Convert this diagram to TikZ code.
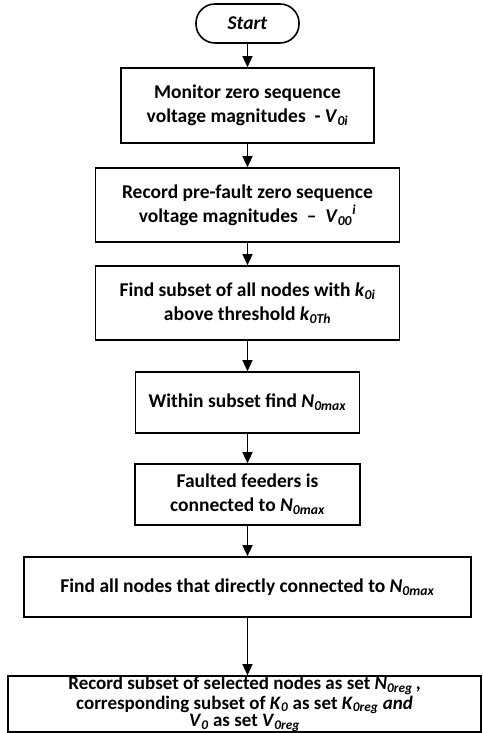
\documentclass[tikz,border=0pt]{standalone}
\usepackage{fontspec}
\setmainfont{Carlito}
\usetikzlibrary{arrows.meta}
\newcommand{\itsub}[2]{\textit{#1}\textsubscript{\textit{#2}}}

\begin{document}
\begin{tikzpicture}[x=1pt, y=1pt,
    box/.style={draw=black, line width=1.6pt, align=center, inner sep=0pt,
      font=\bfseries\fontsize{19.5}{24}\selectfont},
    term/.style={box, rounded corners=19pt},
    flow/.style={line width=1.4pt, -{Triangle[length=11pt, width=10pt]}}]
    % 1. Khung hình 482x733
    \useasboundingbox (0,0) rectangle (482,733);

    % 2. Các khối của lưu đồ
    \node[term, minimum width=103pt, minimum height=39pt] (start) at (247.5,709.5) {\textit{Start}};

    \node[box, minimum width=253pt, minimum height=75pt] (monitor) at (247.5,627.5)
      {Monitor zero sequence\\voltage magnitudes~~- \itsub{V}{0i}};

    \node[box, minimum width=304pt, minimum height=74pt] (prefault) at (247.5,528)
      {Record pre-fault zero sequence\\voltage magnitudes~~–~~\itsub{V}{00}\textsuperscript{\textit{i}}};

    \node[box, minimum width=304pt, minimum height=74pt] (subset) at (247.5,430)
      {Find subset of all nodes with \itsub{k}{0i}\\above threshold \itsub{k}{0Th}};

    \node[box, minimum width=224pt, minimum height=61pt] (nmax) at (247.5,330.5)
      {Within subset find \itsub{N}{0max}};

    \node[box, minimum width=225pt, minimum height=61pt] (faulted) at (247.5,238.5)
      {Faulted feeders is\\connected to \itsub{N}{0max}};

    \node[box, minimum width=447pt, minimum height=60pt] (neighbours) at (247.5,146)
      {Find all nodes that directly connected to \itsub{N}{0max}};

    \node[box, minimum width=473pt, minimum height=56pt,
      font=\bfseries\fontsize{19}{17.5}\selectfont] (record) at (244.5,29)
      {Record subset of selected nodes as set \itsub{N}{0reg}\,,\\
       corresponding subset of \itsub{K}{0} as set \itsub{K}{0reg} \textit{and}\\
       \itsub{V}{0} as set \itsub{V}{0reg}};

    % 3. Mũi tên nối các khối
    \draw[flow] (start.south) -- (start.south |- monitor.north);
    \draw[flow] (monitor.south) -- (monitor.south |- prefault.north);
    \draw[flow] (prefault.south) -- (prefault.south |- subset.north);
    \draw[flow] (subset.south) -- (subset.south |- nmax.north);
    \draw[flow] (nmax.south) -- (nmax.south |- faulted.north);
    \draw[flow] (faulted.south) -- (faulted.south |- neighbours.north);
    \draw[flow] (neighbours.south) -- (neighbours.south |- record.north);

\end{tikzpicture}
\end{document}
